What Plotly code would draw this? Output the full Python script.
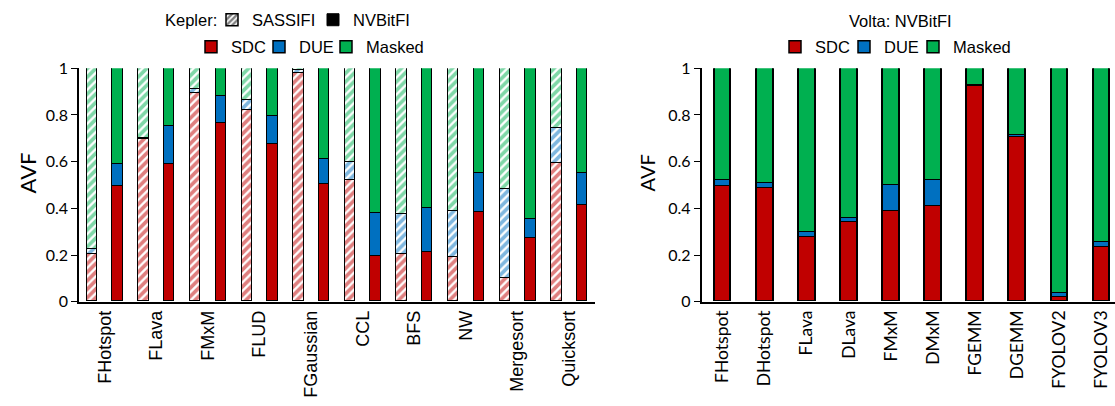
import plotly.graph_objects as go

# ---------------- data ----------------
kepler_categories = ["FHotspot", "FLava", "FMxM", "FLUD", "FGaussian", "CCL", "BFS", "NW", "Mergesort", "Quicksort"]
sassifi_sdc = [0.204, 0.696, 0.891, 0.821, 0.979, 0.520, 0.203, 0.191, 0.100, 0.591]
sassifi_due = [0.022, 0.004, 0.020, 0.040, 0.011, 0.077, 0.173, 0.195, 0.381, 0.153]
sassifi_masked = [0.774, 0.300, 0.089, 0.139, 0.010, 0.403, 0.624, 0.614, 0.519, 0.256]
nvbitfi_sdc = [0.496, 0.589, 0.764, 0.676, 0.503, 0.194, 0.211, 0.384, 0.270, 0.413]
nvbitfi_due = [0.094, 0.161, 0.117, 0.120, 0.107, 0.186, 0.189, 0.165, 0.083, 0.137]
nvbitfi_masked = [0.410, 0.250, 0.119, 0.204, 0.390, 0.620, 0.600, 0.451, 0.647, 0.450]

volta_categories = ["FHotspot", "DHotspot", "FLava", "DLava", "FMxM", "DMxM", "FGEMM", "DGEMM", "FYOLOV2", "FYOLOV3"]
volta_sdc = [0.494, 0.487, 0.278, 0.341, 0.388, 0.410, 0.922, 0.706, 0.017, 0.232]
volta_due = [0.025, 0.020, 0.019, 0.016, 0.112, 0.110, 0.006, 0.008, 0.019, 0.023]
volta_masked = [0.481, 0.493, 0.703, 0.643, 0.500, 0.480, 0.072, 0.286, 0.964, 0.745]

y_ticks = [0, 0.2, 0.4, 0.6, 0.8, 1]
y_ticktext = ["0", "0.2", "0.4", "0.6", "0.8", "1"]

# ---------------- style ----------------
C_SDC = "#C00000"
C_DUE = "#0070C0"
C_MASK = "#00B050"
LINE = dict(color="black", width=1.5)
ARIAL = "Liberation Sans, Arial, sans-serif"
CAL = "Lato, Carlito, Calibri, sans-serif"

W, H = 1115, 406
OFF = 0.247

fig = go.Figure()

idx = list(range(len(kepler_categories)))
x_sas = [i - OFF for i in idx]
x_nv = [i + OFF for i in idx]

for name, vals, col in [("SDC", sassifi_sdc, C_SDC), ("DUE", sassifi_due, C_DUE), ("Masked", sassifi_masked, C_MASK)]:
    fig.add_trace(go.Bar(
        x=x_sas, y=vals, width=0.2, name=name, showlegend=False,
        marker=dict(color="white", line=LINE,
                    pattern=dict(shape="/", fgcolor=col, bgcolor="white", size=6, solidity=0.62)),
        xaxis="x", yaxis="y"))

for name, vals, col, lg in [("SDC", nvbitfi_sdc, C_SDC, "legend3"), ("DUE", nvbitfi_due, C_DUE, "legend4"),
                            ("Masked", nvbitfi_masked, C_MASK, "legend5")]:
    fig.add_trace(go.Bar(
        x=x_nv, y=vals, width=0.2, name=name, legend=lg,
        marker=dict(color=col, line=LINE),
        xaxis="x", yaxis="y"))

# Kepler method legend entries
fig.add_trace(go.Bar(x=[None], y=[None], name="SASSIFI", legend="legend",
                     marker=dict(color="white", line=dict(color="black", width=1.5),
                                 pattern=dict(shape="/", fgcolor="black", bgcolor="white", size=5, solidity=0.6)),
                     xaxis="x", yaxis="y"))
fig.add_trace(go.Bar(x=[None], y=[None], name="NVBitFI", legend="legend2",
                     marker=dict(color="black", line=dict(color="black", width=1)),
                     xaxis="x", yaxis="y"))

vidx = list(range(len(volta_categories)))
for name, vals, col, lg in [("SDC", volta_sdc, C_SDC, "legend6"), ("DUE", volta_due, C_DUE, "legend7"),
                            ("Masked", volta_masked, C_MASK, "legend8")]:
    fig.add_trace(go.Bar(
        x=vidx, y=vals, width=0.4, name=name, legend=lg,
        marker=dict(color=col, line=LINE),
        xaxis="x2", yaxis="y2"))

ydom = [(H - 301.7) / H, (H - 68.3) / H]

common_y = dict(range=[0, 1], tickvals=y_ticks, ticktext=y_ticktext, showgrid=False, zeroline=False,
                showline=True, linecolor="black", linewidth=1.5, ticks="outside", ticklen=6,
                tickcolor="black", tickfont=dict(family=CAL, size=16, color="black"),
                domain=ydom, automargin=False)

LEG_FONT = dict(family=ARIAL, size=16.5, color="black")


def leg(xpx, ypx):
    return dict(orientation="h", x=xpx / W, xanchor="left", y=1 - ypx / H, yanchor="middle",
                font=LEG_FONT, bgcolor="rgba(0,0,0,0)")


fig.update_layout(
    width=W, height=H, margin=dict(l=0, r=0, t=0, b=0, autoexpand=False),
    paper_bgcolor="white", plot_bgcolor="white",
    barmode="stack", bargap=0,
    xaxis=dict(domain=[79 / W, 595 / W], range=[-0.5, 9.5], tickvals=idx, ticktext=kepler_categories,
               tickangle=-90, showgrid=False, zeroline=False, showline=True, linecolor="black", linewidth=1.5,
               ticks="", tickfont=dict(family=ARIAL, size=18, color="black"), anchor="y", automargin=False),
    yaxis=dict(anchor="x", **common_y),
    xaxis2=dict(domain=[701.5 / W, 1.0], range=[-0.5, 9.32], tickvals=vidx, ticktext=volta_categories,
                tickangle=-90, showgrid=False, zeroline=False, showline=True, linecolor="black", linewidth=1.5,
                ticks="", tickfont=dict(family=CAL, size=17.5, color="black"), anchor="y2", automargin=False),
    yaxis2=dict(anchor="x2", **common_y),
    legend=leg(212, 20),
    legend2=leg(313, 20),
    legend3=leg(191, 47),
    legend4=leg(259, 47),
    legend5=leg(326, 47),
    legend6=leg(775, 47),
    legend7=leg(844, 47),
    legend8=leg(913, 47),
    annotations=[
        dict(text="Kepler:", xref="paper", yref="paper", x=219 / W, y=1 - 20 / H, xanchor="right",
             yanchor="middle", showarrow=False, font=LEG_FONT),
        dict(text="Volta: NVBitFI", xref="paper", yref="paper", x=900 / W, y=1 - 21 / H, xanchor="center",
             yanchor="middle", showarrow=False, font=LEG_FONT),
        dict(text="AVF", xref="paper", yref="paper", x=27 / W, y=1 - 173.5 / H, xanchor="center",
             yanchor="middle", textangle=-90, showarrow=False, font=dict(family=CAL, size=22, color="black")),
        dict(text="AVF", xref="paper", yref="paper", x=646 / W, y=1 - 173.5 / H, xanchor="center",
             yanchor="middle", textangle=-90, showarrow=False, font=dict(family=CAL, size=20, color="black")),
    ],
)

fig.write_html("out.html", config={"displayModeBar": False},
               post_script="document.body.style.margin='0';document.body.style.overflow='hidden';")
